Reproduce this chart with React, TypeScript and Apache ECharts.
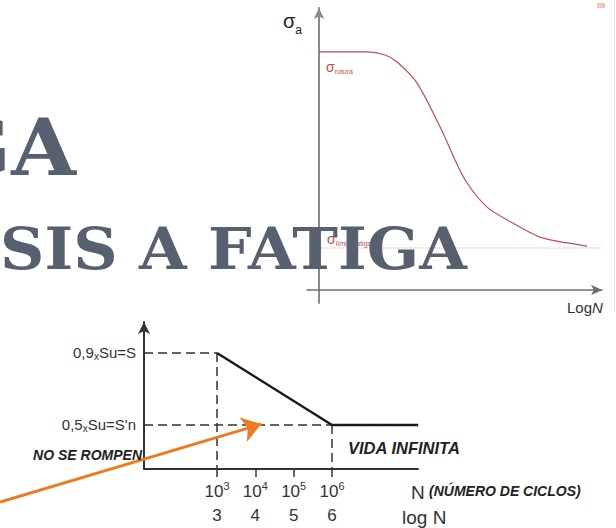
import React, { useEffect, useRef } from "react";
import * as echarts from "echarts";

// ---- Top chart (qualitative S-N curve, Log N) ----
const curveLogN = [0, 1.71, 2.35, 2.78, 3.49, 4.41, 4.84, 5.27, 5.98, 6.9, 7.86, 8.83, 9.54];
const curveSigma = [8.5, 8.5, 8.39, 8.14, 7.39, 5.61, 4.64, 3.82, 2.96, 2.39, 1.89, 1.68, 1.57];
const fatigueLimit = 1.5;
const fatigueLimitSpan = [0, 10.07];

// ---- Bottom chart (simplified S-N diagram) ----
const snLogN = [3, 6, 8.25];
const snStress = [0.9, 0.5, 0.5];
const logTicks = [3, 4, 5, 6];
const stressTicks = [0.5, 0.9];
const stressTickLabels = ["0,5xSu=S'n", "0,9xSu=S"];
const arrowFrom = [-2.66, 0.072];
const arrowTo = [4.16, 0.505];

const SANS = '"Liberation Sans", Arial, sans-serif';
const SERIF = '"DejaVu Serif", serif';
const TITLE_COLOR = "#56606e";

const bXMin = 1.095;
const bXMax = 8.244;
const bYMin = 0.2556;
const bYMax = 1.072;

function buildOption(): any {
  const dash = { color: "#333", width: 1.5, type: [9, 5] };
  const dashSeries = (data: number[][]) => ({
    type: "line",
    xAxisIndex: 1,
    yAxisIndex: 1,
    data,
    showSymbol: false,
    symbol: "none",
    lineStyle: dash,
    silent: true,
    z: 3,
  });
  return {
    animation: false,
    backgroundColor: "#ffffff",
    grid: [
      { left: 307, top: 8, width: 295, height: 295, containLabel: false },
      { left: 144, top: 322, width: 274, height: 147, containLabel: false },
    ],
    xAxis: [
      {
        type: "value",
        gridIndex: 0,
        min: -0.427,
        max: 10.07,
        axisLine: {
          onZero: true,
          lineStyle: { color: "#6d6d6d", width: 1.5 },
          symbol: ["none", "arrow"],
          symbolSize: [8, 11],
        },
        axisTick: { show: false },
        axisLabel: { show: false },
        splitLine: { show: false },
      },
      {
        type: "value",
        gridIndex: 1,
        min: bXMin,
        max: bXMax,
        axisLine: { onZero: false, lineStyle: { color: "#333", width: 2 } },
        axisTick: {
          show: true,
          customValues: logTicks,
          length: 8,
          lineStyle: { color: "#333", width: 1.5 },
        },
        axisLabel: {
          show: true,
          customValues: logTicks,
          margin: 11,
          color: "#333",
          fontFamily: SANS,
          formatter: (v: number) => `{a|10}{s|${v}}\n{b|${v}}`,
          rich: {
            a: { fontSize: 17, lineHeight: 22, fontFamily: SANS, color: "#333" },
            s: { fontSize: 11, lineHeight: 12, verticalAlign: "top", fontFamily: SANS, color: "#333" },
            b: { fontSize: 17, lineHeight: 26, fontFamily: SANS, color: "#333" },
          },
        },
        splitLine: { show: false },
      },
    ],
    yAxis: [
      {
        type: "value",
        gridIndex: 0,
        min: -0.464,
        max: 10.07,
        axisLine: {
          onZero: true,
          lineStyle: { color: "#8a8a8a", width: 2 },
          symbol: ["none", "arrow"],
          symbolSize: [8, 11],
        },
        axisTick: { show: false },
        axisLabel: { show: false },
        splitLine: { show: false },
      },
      {
        type: "value",
        gridIndex: 1,
        min: bYMin,
        max: bYMax,
        axisLine: {
          onZero: false,
          lineStyle: { color: "#333", width: 2 },
          symbol: ["none", "arrow"],
          symbolSize: [9, 12],
        },
        axisTick: { show: false },
        axisLabel: {
          show: true,
          customValues: stressTicks,
          margin: 8,
          formatter: (v: number) => {
            let idx = 0;
            stressTicks.forEach((t, i) => {
              if (Math.abs(t - v) < Math.abs(stressTicks[idx] - v)) idx = i;
            });
            const [a, b] = stressTickLabels[idx].split("x");
            return `{n|${a}}{x|x}{n|${b}}`;
          },
          rich: {
            n: { fontSize: 15, lineHeight: 18, fontFamily: SANS, color: "#333" },
            x: { fontSize: 10, lineHeight: 13, verticalAlign: "bottom", fontFamily: SANS, color: "#333" },
          },
        },
        splitLine: { show: false },
      },
    ],
    series: [
      {
        type: "line",
        xAxisIndex: 0,
        yAxisIndex: 0,
        data: curveLogN.map((x, i) => [x, curveSigma[i]]),
        smooth: 0.3,
        showSymbol: false,
        symbol: "none",
        lineStyle: { color: "#b9534f", width: 1.2 },
        silent: true,
        z: 3,
      },
      {
        type: "line",
        xAxisIndex: 0,
        yAxisIndex: 0,
        data: fatigueLimitSpan.map((x) => [x, fatigueLimit]),
        showSymbol: false,
        symbol: "none",
        lineStyle: { color: "#c9bcbc", width: 1, type: "dotted" },
        silent: true,
        z: 2,
      },
      dashSeries([[bXMin, snStress[0]], [snLogN[0], snStress[0]]]),
      dashSeries([[bXMin, snStress[1]], [snLogN[1], snStress[1]]]),
      dashSeries([[snLogN[0], snStress[0]], [snLogN[0], bYMin]]),
      dashSeries([[snLogN[1], snStress[1]], [snLogN[1], bYMin]]),
      {
        type: "line",
        xAxisIndex: 1,
        yAxisIndex: 1,
        data: snLogN.map((x, i) => [x, snStress[i]]),
        showSymbol: false,
        symbol: "none",
        lineStyle: { color: "#1a1a1a", width: 2.5 },
        silent: true,
        z: 4,
      },
      {
        type: "lines",
        coordinateSystem: "cartesian2d",
        xAxisIndex: 1,
        yAxisIndex: 1,
        clip: false,
        symbol: ["none", "arrow"],
        symbolSize: [0, 19],
        lineStyle: { color: "#f07a21", width: 3, opacity: 1, curveness: 0 },
        data: [{ coords: [arrowFrom, arrowTo] }],
        silent: true,
        z: 6,
      },
    ],
    graphic: [
      {
        type: "rect",
        shape: { x: 597, y: 3, width: 8, height: 5 },
        style: { fill: "#f6c3b5" },
        silent: true,
      },
      {
        type: "line",
        shape: { x1: 614.5, y1: 0, x2: 614.5, y2: 312 },
        style: { stroke: "#e6e6e6", lineWidth: 1 },
        silent: true,
      },
      {
        type: "text",
        x: 283,
        y: 21,
        style: {
          text: "{s|σ}{a|a}",
          textVerticalAlign: "middle",
          rich: {
            s: { fontSize: 20, fontFamily: SANS, fill: "#222", lineHeight: 22 },
            a: { fontSize: 12, fontFamily: SANS, fill: "#222", lineHeight: 12, verticalAlign: "bottom", padding: [0, 0, -4, 0] },
          },
        },
        silent: true,
      },
      {
        type: "text",
        x: 326,
        y: 67,
        style: {
          text: "{s|σ}{r|rotura}",
          textVerticalAlign: "middle",
          rich: {
            s: { fontSize: 14, fontFamily: SANS, fill: "#c0504d", lineHeight: 16 },
            r: { fontSize: 7, fontFamily: SANS, fill: "#c0504d", lineHeight: 9, verticalAlign: "bottom" },
          },
        },
        silent: true,
      },
      {
        type: "text",
        x: 327,
        y: 239,
        z: 5,
        style: {
          text: "{s|σ}{r|límite fatiga}",
          textVerticalAlign: "middle",
          rich: {
            s: { fontSize: 14, fontFamily: SANS, fill: "#c0504d", lineHeight: 16 },
            r: { fontSize: 7, fontFamily: SANS, fill: "#c0504d", lineHeight: 9, verticalAlign: "bottom" },
          },
        },
        silent: true,
      },
      {
        type: "text",
        x: 567,
        y: 307,
        style: {
          text: "{r|Log}{i|N}",
          textVerticalAlign: "middle",
          rich: {
            r: { fontSize: 15, fontFamily: SANS, fill: "#333" },
            i: { fontSize: 15, fontFamily: SANS, fontStyle: "italic", fill: "#333" },
          },
        },
        silent: true,
      },
      {
        type: "text",
        x: 76,
        y: 147,
        scaleX: 1.07,
        z: 100,
        style: {
          text: "GA",
          font: `bold 78px ${SERIF}`,
          fill: TITLE_COLOR,
          textAlign: "right",
          textVerticalAlign: "middle",
        },
        silent: true,
      },
      {
        type: "text",
        x: 0,
        y: 249,
        scaleX: 1.06,
        z: 100,
        style: {
          text: "SIS A FATIGA",
          font: `bold 58px ${SERIF}`,
          fill: TITLE_COLOR,
          textAlign: "left",
          textVerticalAlign: "middle",
        },
        silent: true,
      },
      {
        type: "text",
        x: 142,
        y: 455,
        z: 10,
        style: {
          text: "NO SE ROMPEN",
          font: `italic bold 14px ${SANS}`,
          fill: "#222",
          textAlign: "right",
          textVerticalAlign: "middle",
        },
        silent: true,
      },
      {
        type: "text",
        x: 348,
        y: 448,
        style: {
          text: "VIDA INFINITA",
          font: `italic bold 16.5px ${SANS}`,
          fill: "#222",
          textAlign: "left",
          textVerticalAlign: "middle",
        },
        silent: true,
      },
      {
        type: "text",
        x: 411,
        y: 492,
        style: {
          text: "N",
          font: `19px ${SANS}`,
          fill: "#333",
          textAlign: "left",
          textVerticalAlign: "middle",
        },
        silent: true,
      },
      {
        type: "text",
        x: 429,
        y: 491,
        style: {
          text: "(NÚMERO DE CICLOS)",
          font: `italic bold 14px ${SANS}`,
          fill: "#222",
          textAlign: "left",
          textVerticalAlign: "middle",
        },
        silent: true,
      },
      {
        type: "text",
        x: 402,
        y: 517,
        style: {
          text: "log N",
          font: `19px ${SANS}`,
          fill: "#333",
          textAlign: "left",
          textVerticalAlign: "middle",
        },
        silent: true,
      },
    ],
  };
}

export default function App() {
  const ref = useRef<HTMLDivElement>(null);
  useEffect(() => {
    if (!ref.current) return;
    const chart = echarts.init(ref.current, null, { renderer: "svg", width: 616, height: 528 });
    chart.setOption(buildOption());
    return () => chart.dispose();
  }, []);
  return (
    <div
      ref={ref}
      style={{ position: "absolute", left: 0, top: 0, width: 616, height: 528, background: "#fff" }}
    />
  );
}
